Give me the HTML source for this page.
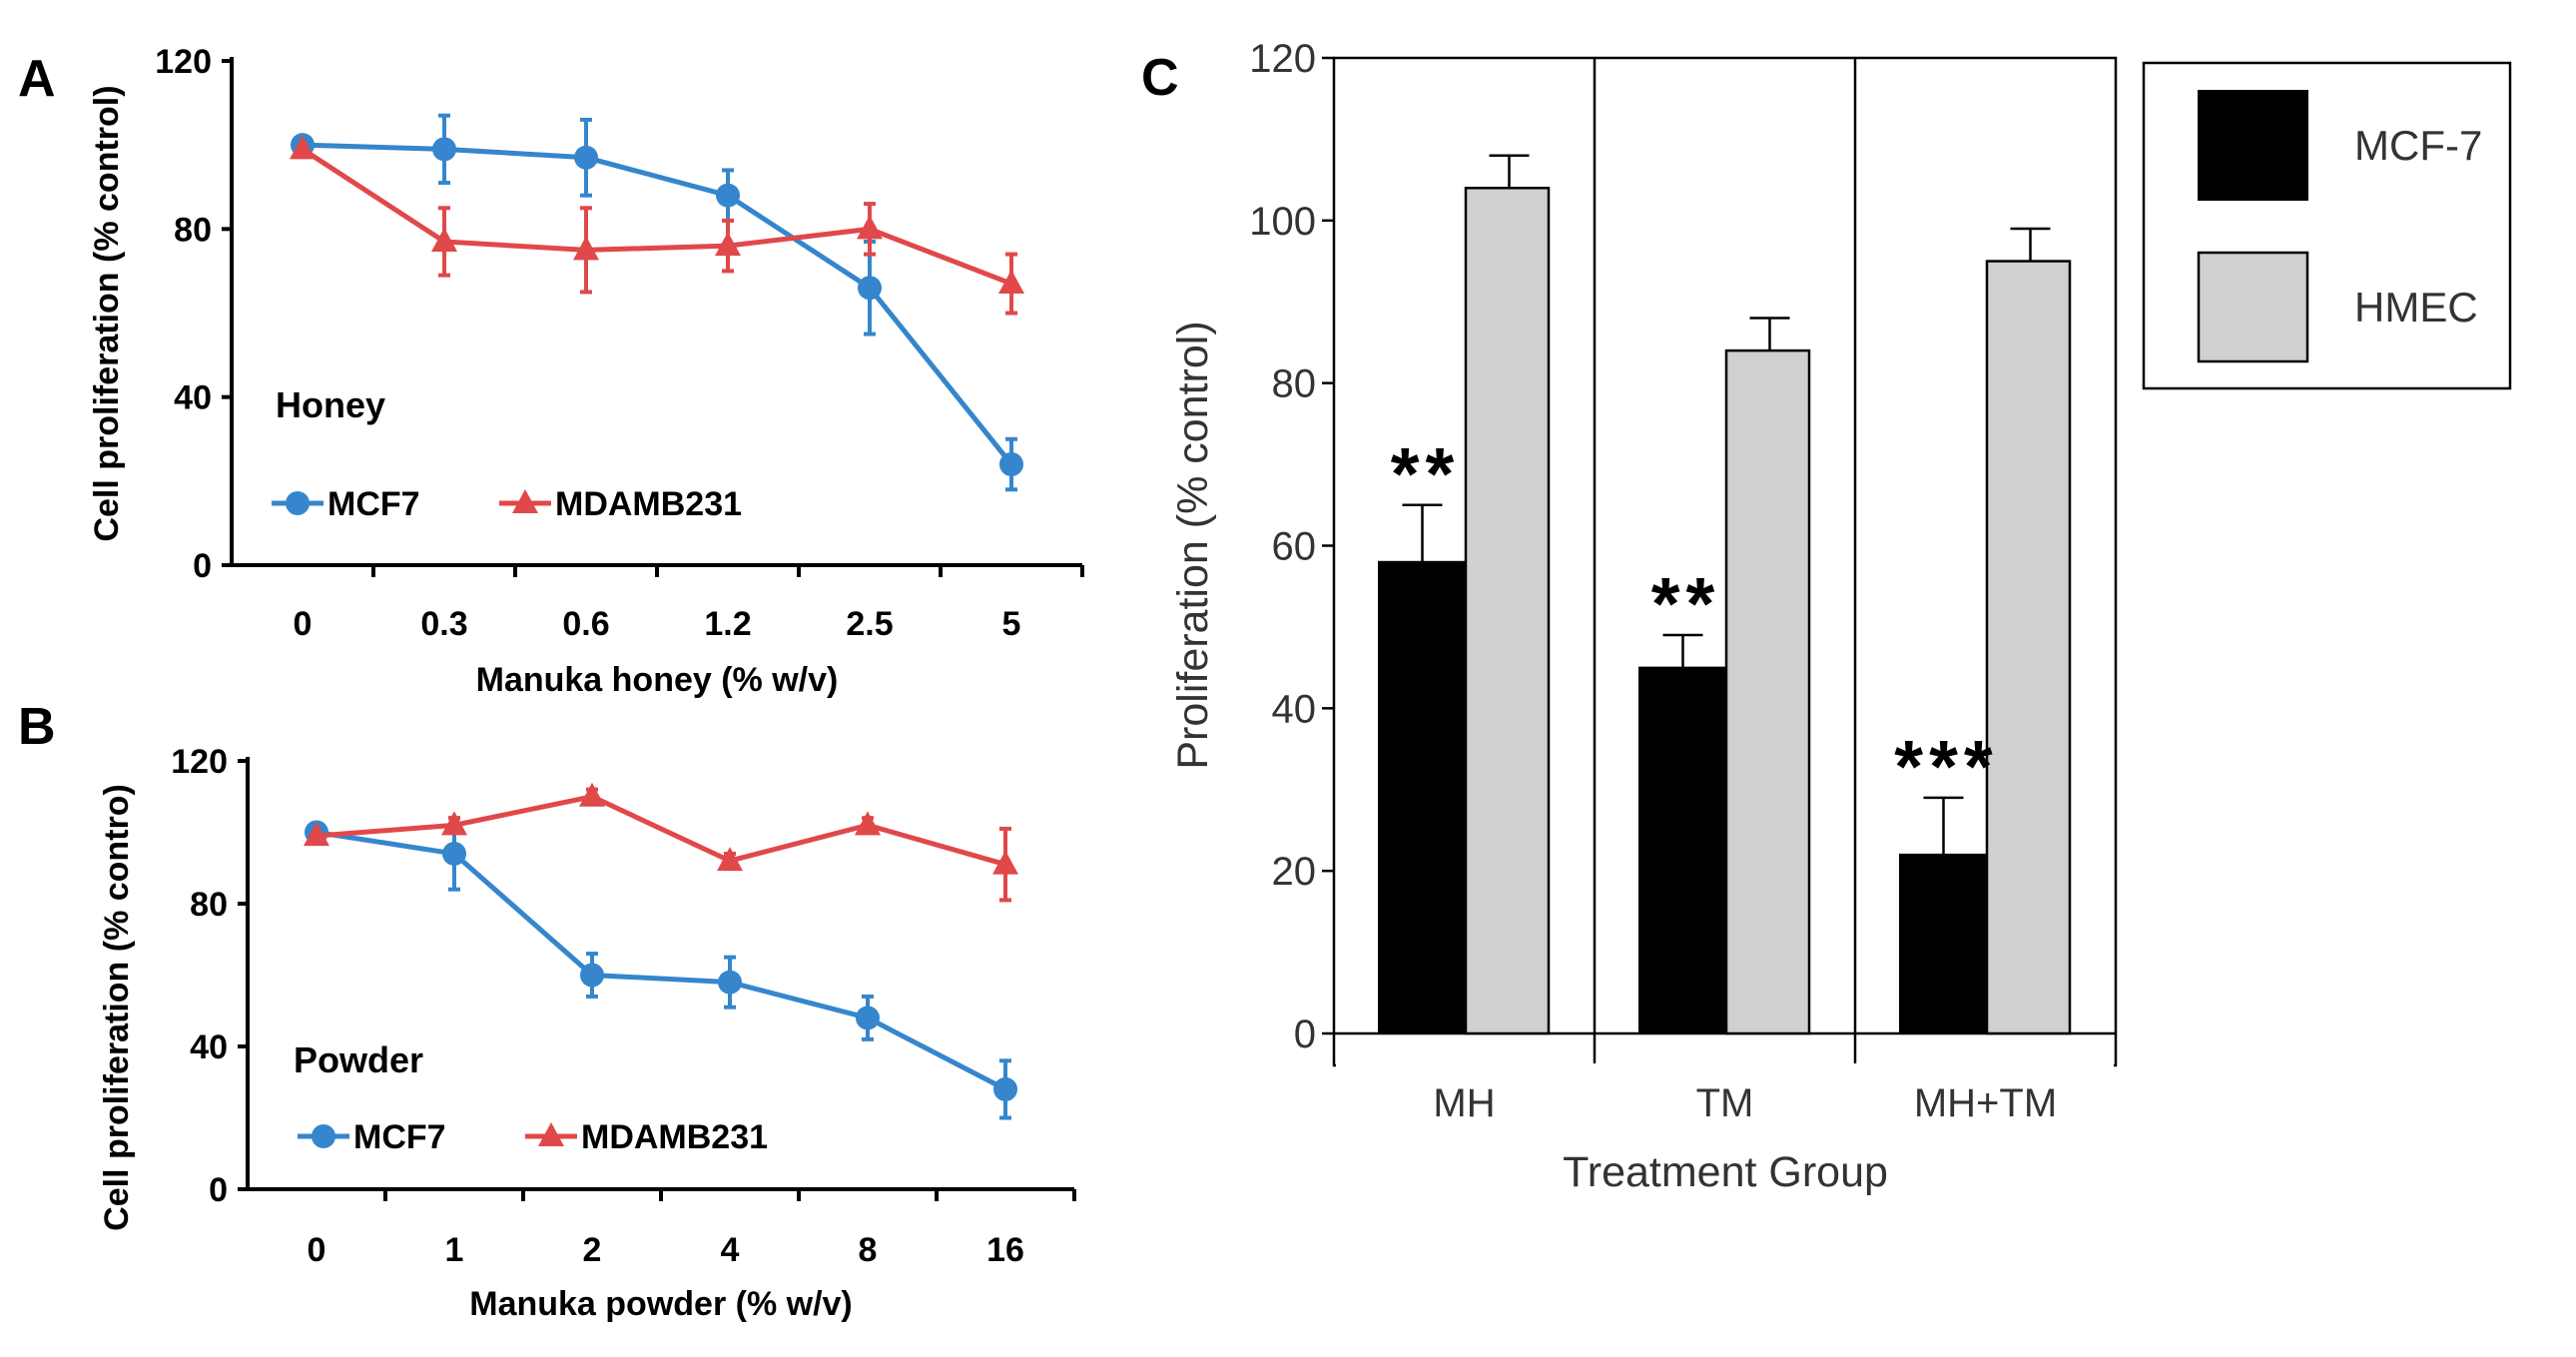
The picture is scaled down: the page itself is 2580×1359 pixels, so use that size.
<!DOCTYPE html>
<html><head><meta charset="utf-8"><style>
html,body{margin:0;padding:0;background:#fff;}
svg{display:block;}
.b{font-family:"Liberation Sans",sans-serif;font-weight:bold;}
.r{font-family:"Liberation Sans",sans-serif;}
</style></head><body>
<svg id="fig" width="2580" height="1359" viewBox="0 0 2580 1359" xmlns="http://www.w3.org/2000/svg">
<g id="pa"></g>
<g id="pb"></g>
<g id="pc"></g>
</svg>
<script>
const catsA = ["0","0.3","0.6","1.2","2.5","5"];
const mcfA = [100, 99, 97, 88, 66, 24];
const mcfAErr = [0, 8, 9, 6, 11, 6];
const mdaA = [99, 77, 75, 76, 80, 67];
const mdaAErr = [0, 8, 10, 6, 6, 7];
const catsB = ["0","1","2","4","8","16"];
const mcfB = [100, 94, 60, 58, 48, 28];
const mcfBErr = [0, 10, 6, 7, 6, 8];
const mdaB = [99, 102, 110, 92, 102, 91];
const mdaBErr = [0, 2, 2, 2, 2, 10];
const yTicksLine = [0, 40, 80, 120];
const groupsC = ["MH","TM","MH+TM"];
const mcfC = [58, 45, 22];
const mcfCErr = [7, 4, 7];
const hmecC = [104, 84, 95];
const hmecCErr = [4, 4, 4];
const starsC = ["**","**","***"];
const yTicksC = [0, 20, 40, 60, 80, 100, 120];

const NS = "http://www.w3.org/2000/svg";
const BLUE = "#3586cc", RED = "#e0484a";
function el(parent, tag, attrs, text) {
  const e = document.createElementNS(NS, tag);
  for (const k in attrs) e.setAttribute(k, attrs[k]);
  if (text !== undefined) e.textContent = text;
  parent.appendChild(e);
  return e;
}

function linePanel(g, o) {
  const yS = v => o.y0 + (o.y120 - o.y0) * v / 120;
  const xS = i => o.x0 + o.cw * (i + 0.5);
  const xEnd = o.x0 + o.cw * o.cats.length;
  let e;
  e = el(g, "line", {x1:o.x0, y1:o.y120 - 4, x2:o.x0, y2:o.y0, stroke:"#000", "stroke-width":4});
  
  
  e = el(g, "line", {x1:o.x0 - 10, y1:o.y0, x2:xEnd, y2:o.y0, stroke:"#000", "stroke-width":4});
  
  
  yTicksLine.forEach(t => {
    el(g, "line", {x1:o.x0 - 10, y1:yS(t), x2:o.x0, y2:yS(t), stroke:"#000", "stroke-width":4});
    e = el(g, "text", {x:o.x0 - 20, y:yS(t) + 12, "text-anchor":"end", "font-size":34, class:"b"}, String(t));
    
    
  });
  for (let i = 1; i <= o.cats.length; i++) {
    const x = o.x0 + o.cw * i;
    el(g, "line", {x1:x, y1:o.y0, x2:x, y2:o.y0 + 12, stroke:"#000", "stroke-width":4});
  }
  o.cats.forEach((c, i) => {
    e = el(g, "text", {x:xS(i), y:o.tickY, "text-anchor":"middle", "font-size":34, class:"b"}, c);
    
    
  });
  e = el(g, "text", {x:(o.x0 + xEnd) / 2, y:o.titleY, "text-anchor":"middle", "font-size":34, class:"b"}, o.xTitle);
  
  
  e = el(g, "text", {x:0, y:0, "text-anchor":"middle", "font-size":34, class:"b", transform:`translate(${o.ytX},${o.ytY}) rotate(-90)`}, o.yTitle);
  
  
  e = el(g, "text", {x:o.lblX, y:o.lblY, "font-size":52, class:"b"}, o.letter);
  
  
  e = el(g, "text", {x:o.nameX, y:o.nameY, "font-size":36, class:"b"}, o.name);
  
  

  function series(vals, errs, color, tri, nm) {
    const sg = el(g, "g", {});
    
    
    const pts = vals.map((v, i) => xS(i) + "," + yS(v)).join(" ");
    el(sg, "polyline", {points:pts, fill:"none", stroke:color, "stroke-width":5});
    vals.forEach((v, i) => {
      if (errs[i] > 0) {
        el(sg, "line", {x1:xS(i), y1:yS(v + errs[i]), x2:xS(i), y2:yS(v - errs[i]), stroke:color, "stroke-width":4});
        el(sg, "line", {x1:xS(i) - 6, y1:yS(v + errs[i]), x2:xS(i) + 6, y2:yS(v + errs[i]), stroke:color, "stroke-width":4});
        el(sg, "line", {x1:xS(i) - 6, y1:yS(v - errs[i]), x2:xS(i) + 6, y2:yS(v - errs[i]), stroke:color, "stroke-width":4});
      }
      let m;
      if (tri) {
        const x = xS(i), y = yS(v);
        m = el(sg, "polygon", {points:`${x},${y - 14} ${x - 13},${y + 10} ${x + 13},${y + 10}`, fill:color});
      } else {
        m = el(sg, "circle", {cx:xS(i), cy:yS(v), r:12, fill:color});
      }
      
      
    });
  }
  series(o.mcf, o.mcfErr, BLUE, false, "mcf7");
  series(o.mda, o.mdaErr, RED, true, "mdamb231");

  const lg = el(g, "g", {});
  
  
  const ly = o.legY;
  el(lg, "line", {x1:o.legX1, y1:ly, x2:o.legX1 + 52, y2:ly, stroke:BLUE, "stroke-width":5});
  el(lg, "circle", {cx:o.legX1 + 26, cy:ly, r:12, fill:BLUE});
  el(lg, "text", {x:o.legX1 + 56, y:ly + 12, "font-size":34, class:"b"}, "MCF7");
  el(lg, "line", {x1:o.legX2, y1:ly, x2:o.legX2 + 52, y2:ly, stroke:RED, "stroke-width":5});
  const tx = o.legX2 + 26;
  el(lg, "polygon", {points:`${tx},${ly - 14} ${tx - 13},${ly + 10} ${tx + 13},${ly + 10}`, fill:RED});
  el(lg, "text", {x:o.legX2 + 56, y:ly + 12, "font-size":34, class:"b"}, "MDAMB231");
}

linePanel(document.getElementById("pa"), {
  x0:232, cw:142, y0:566, y120:61, cats:catsA, mcf:mcfA, mcfErr:mcfAErr, mda:mdaA, mdaErr:mdaAErr,
  tickY:636, titleY:692, xTitle:"Manuka honey (% w/v)", yTitle:"Cell proliferation (% control)", ytX:118, ytY:314,
  lblX:18, lblY:96, letter:"A", nameX:276, nameY:418, name:"Honey", legY:504, legX1:272, legX2:500
});
linePanel(document.getElementById("pb"), {
  x0:248, cw:138, y0:1191, y120:762, cats:catsB, mcf:mcfB, mcfErr:mcfBErr, mda:mdaB, mdaErr:mdaBErr,
  tickY:1263, titleY:1317, xTitle:"Manuka powder (% w/v)", yTitle:"Cell proliferation   (% contro)", ytX:128, ytY:1009,
  lblX:18, lblY:745, letter:"B", nameX:294, nameY:1074, name:"Powder", legY:1138, legX1:298, legX2:526
});

(function(){
  const g = document.getElementById("pc");
  const x0 = 1336, gw = 261, y0 = 1035, y120 = 58;
  const yS = v => y0 + (y120 - y0) * v / 120;
  const bw = 87, off = 45;
  let e;
  e = el(g, "rect", {x:x0, y:y120, width:gw * 3, height:y0 - y120 + 32, fill:"none", stroke:"#000", "stroke-width":2.5});
  
  
  el(g, "line", {x1:x0, y1:y0, x2:x0 + gw * 3, y2:y0, stroke:"#000", "stroke-width":2.5});
  for (let i = 1; i < 3; i++) el(g, "line", {x1:x0 + gw * i, y1:y120, x2:x0 + gw * i, y2:y0 + 32, stroke:"#000", "stroke-width":2.5});
  el(g, "line", {x1:x0 + 2, y1:y0 + 32, x2:x0 + gw * 3 - 2, y2:y0 + 32, stroke:"#fff", "stroke-width":4});
  yTicksC.forEach(t => {
    el(g, "line", {x1:x0 - 12, y1:yS(t), x2:x0, y2:yS(t), stroke:"#000", "stroke-width":2.5});
    e = el(g, "text", {x:x0 - 18, y:yS(t) + 14, "text-anchor":"end", "font-size":40, fill:"#333", class:"r"}, String(t));
    
    
  });
  groupsC.forEach((gn, i) => {
    const gx = x0 + gw * i;
    const bx1 = gx + off, bx2 = gx + off + bw;
    [[bx1, mcfC[i], mcfCErr[i]], [bx2, hmecC[i], hmecCErr[i]]].forEach(([bx, v, er]) => {
      el(g, "line", {x1:bx + bw / 2, y1:yS(v), x2:bx + bw / 2, y2:yS(v + er), stroke:"#000", "stroke-width":2.5});
      el(g, "line", {x1:bx + bw / 2 - 20, y1:yS(v + er), x2:bx + bw / 2 + 20, y2:yS(v + er), stroke:"#000", "stroke-width":2.5});
    });
    e = el(g, "rect", {x:bx1, y:yS(mcfC[i]), width:bw, height:y0 - yS(mcfC[i]), fill:"#000", stroke:"#000", "stroke-width":2});
    
    
    e = el(g, "rect", {x:bx2, y:yS(hmecC[i]), width:bw - 4, height:y0 - yS(hmecC[i]), fill:"#d0d0d0", stroke:"#000", "stroke-width":2.5});
    
    
    e = el(g, "text", {x:bx1 + bw / 2 + 3, y:yS(mcfC[i] + mcfCErr[i]) - 6, "text-anchor":"middle", "font-size":74, "letter-spacing":6, class:"b"}, starsC[i]);
    
    
    e = el(g, "text", {x:gx + gw / 2, y:1118, "text-anchor":"middle", "font-size":40, fill:"#333", class:"r"}, gn);
    
    
  });
  e = el(g, "text", {x:1728, y:1188, "text-anchor":"middle", "font-size":43, fill:"#333", class:"r"}, "Treatment Group");
  
  
  e = el(g, "text", {x:0, y:0, "text-anchor":"middle", "font-size":43, fill:"#333", class:"r", transform:"translate(1209,546) rotate(-90)"}, "Proliferation (% control)");
  
  
  e = el(g, "text", {x:1143, y:95, "font-size":52, class:"b"}, "C");
  
  
  const lg = el(g, "g", {});
  
  
  el(lg, "rect", {x:2147, y:63, width:367, height:326, fill:"#fff", stroke:"#000", "stroke-width":2.5});
  el(lg, "rect", {x:2202, y:91, width:109, height:109, fill:"#000", stroke:"#000", "stroke-width":2});
  el(lg, "rect", {x:2202, y:253, width:109, height:109, fill:"#d0d0d0", stroke:"#000", "stroke-width":2.5});
  el(lg, "text", {x:2358, y:160, "font-size":42, fill:"#333", class:"r"}, "MCF-7");
  el(lg, "text", {x:2358, y:322, "font-size":42, fill:"#333", class:"r"}, "HMEC");
})();
</script>
</body></html>
